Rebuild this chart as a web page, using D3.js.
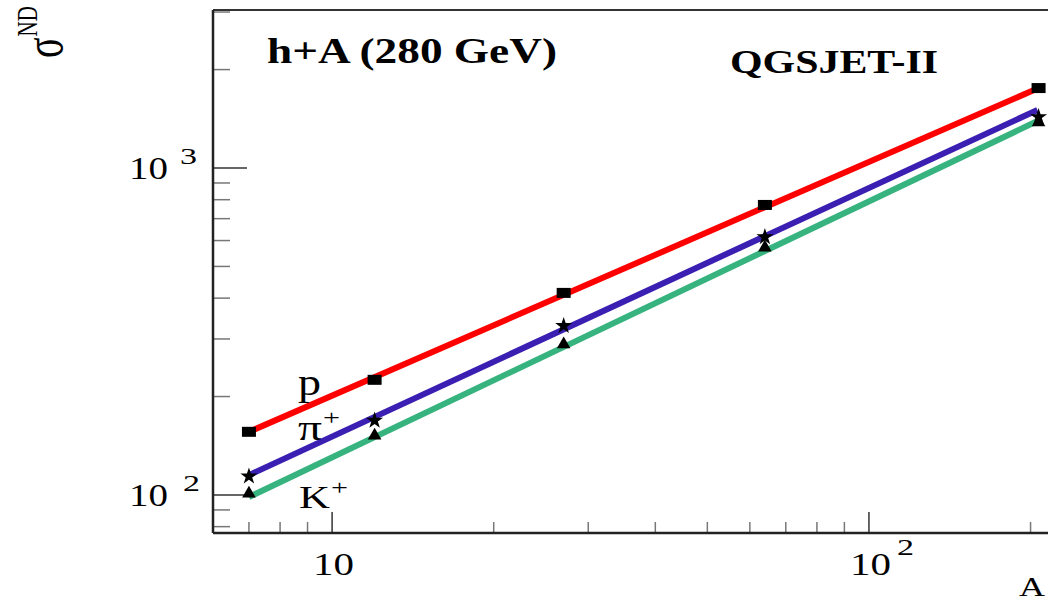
<!DOCTYPE html>
<html><head><meta charset="utf-8">
<script src="https://cdn.jsdelivr.net/npm/d3@7"></script>
<style>html,body{margin:0;padding:0;background:#fff;overflow:hidden} svg{display:block}</style>
</head><body>
<svg id="chart" width="1048" height="603"></svg>
<script>
// ---- data ----
const massNumbers = [7, 12, 27, 64, 207];
const sigmaP  = [156, 225, 415, 771, 1756];
const sigmaPi = [114, 169, 329, 615, 1432];
const sigmaK  = [101, 152, 289, 571, 1380];
// straight (power-law) fit lines drawn in the figure
const fitA  = [7, 206];
const fitP  = [156, 1750];
const fitPi = [115, 1505];
const fitK  = [98.6, 1392];
const seriesLabels = ["p", "π", "K"];
const seriesCharge = ["", "+", "+"];
const xMajorTicks = [10, 100];
const xMinorTicks = [7, 8, 9, 20, 30, 40, 50, 60, 70, 80, 90, 200];
const yMajorTicks = [100, 1000];
const yMinorTicks = [80, 90, 200, 300, 400, 500, 600, 700, 800, 900, 2000, 3000];
const xDomain = [6, 216];
const yDomain = [76.5, 3043];

const colors = ["#ff0000", "#3a1fb2", "#36b37e"];
const serif = "'Liberation Serif','DejaVu Serif',serif";

const svg = d3.select("#chart");
svg.append("rect").attr("width", 1048).attr("height", 603).attr("fill", "#fff");

const pLeft = 213, pRight = 1048.5, pTop = 10, pBottom = 533;
const x = d3.scaleLog().domain(xDomain).range([pLeft, pRight]);
const y = d3.scaleLog().domain(yDomain).range([pBottom, pTop]);

// ---- ticks ----
const tg = svg.append("g").attr("stroke", "#777").attr("stroke-width", 1.5);
tg.selectAll(".ymaj").data(yMajorTicks).join("line")
  .attr("x1", pLeft).attr("x2", pLeft + 34).attr("y1", d => y(d)).attr("y2", d => y(d)).attr("stroke", "#333");
tg.selectAll(".ymin").data(yMinorTicks).join("line")
  .attr("x1", pLeft).attr("x2", pLeft + 17).attr("y1", d => y(d)).attr("y2", d => y(d));
tg.selectAll(".xmaj").data(xMajorTicks).join("line")
  .attr("x1", d => x(d)).attr("x2", d => x(d)).attr("y1", pBottom).attr("y2", pBottom - 21).attr("stroke", "#333");
tg.selectAll(".xmin").data(xMinorTicks).join("line")
  .attr("x1", d => x(d)).attr("x2", d => x(d)).attr("y1", pBottom).attr("y2", pBottom - 11);

// ---- frame ----
svg.append("line").attr("x1", pLeft).attr("x2", 1050).attr("y1", pTop).attr("y2", pTop).attr("stroke", "#333").attr("stroke-width", 2);
svg.append("line").attr("x1", pLeft).attr("x2", 1050).attr("y1", pBottom).attr("y2", pBottom).attr("stroke", "#222").attr("stroke-width", 2.5);
svg.append("line").attr("x1", pLeft).attr("x2", pLeft).attr("y1", pTop).attr("y2", pBottom).attr("stroke", "#222").attr("stroke-width", 2.5);

// ---- tick labels ----
function txt(s, px, py, size, len, opts = {}) {
  const t = svg.append("text").attr("x", px).attr("y", py).text(s)
    .attr("font-family", serif).attr("font-size", size).attr("fill", "#000");
  if (len) t.attr("textLength", len).attr("lengthAdjust", "spacingAndGlyphs");
  if (opts.bold) t.attr("font-weight", "bold");
  return t;
}
yMajorTicks.forEach(v => {
  const e = Math.round(Math.log10(v));
  txt("10", 129, y(v) + 11, 32, 39);
  txt(String(e), e === 3 ? 180 : 183, y(v) - 4, 23, 17);
});
xMajorTicks.forEach(v => {
  const e = Math.round(Math.log10(v));
  txt("10", x(v) - 19, 575, 32, 41);
  if (e > 1) txt(String(e), x(v) + 28, 555, 23, 17);
});

// ---- axis titles ----
txt("A", 1019, 596, 27, 26);
const yt = svg.append("text").attr("transform", "translate(62,58) scale(1.45,1) rotate(-90)")
  .attr("font-family", serif).attr("fill", "#000");
yt.append("tspan").attr("font-size", 38).text("σ");
yt.append("tspan").attr("font-size", 21).attr("dy", -17).attr("dx", 1).text("ND");

// ---- fit lines ----
const fits = [fitP, fitPi, fitK];
const line = d3.line().x(d => x(d[0])).y(d => y(d[1]));
fits.forEach((f, i) => {
  svg.append("path").datum(fitA.map((a, j) => [a, f[j]]))
    .attr("d", line).attr("fill", "none").attr("stroke", colors[i]).attr("stroke-width", 6);
});

// ---- markers ----
svg.append("g").selectAll("rect").data(massNumbers.map((a, i) => [a, sigmaP[i]])).join("rect")
  .attr("x", d => x(d[0]) - 7).attr("y", d => y(d[1]) - 5).attr("width", 14).attr("height", 10).attr("fill", "#000");
svg.append("g").selectAll("path").data(massNumbers.map((a, i) => [a, sigmaPi[i]])).join("path")
  .attr("transform", d => `translate(${x(d[0])},${y(d[1])})`)
  .attr("d", d3.symbol(d3.symbolStar, 90)).attr("fill", "#000");
svg.append("g").selectAll("path").data(massNumbers.map((a, i) => [a, sigmaK[i]])).join("path")
  .attr("transform", d => `translate(${x(d[0])},${y(d[1])})`)
  .attr("d", d3.symbol(d3.symbolTriangle, 80)).attr("fill", "#000");

// ---- series labels ----
txt(seriesLabels[0], 298, 395, 37, 23);
txt(seriesLabels[1], 298, 440, 36, 24);
txt(seriesCharge[1], 323, 425, 22, 17);
txt(seriesLabels[2], 299, 508, 31, 31);
txt(seriesCharge[2], 331, 495, 22, 17);

// ---- annotations ----
txt("h+A (280 GeV)", 267, 63, 36, 290, {bold: true});
txt("QGSJET-II", 730, 73, 33, 208, {bold: true});
</script>
</body></html>
